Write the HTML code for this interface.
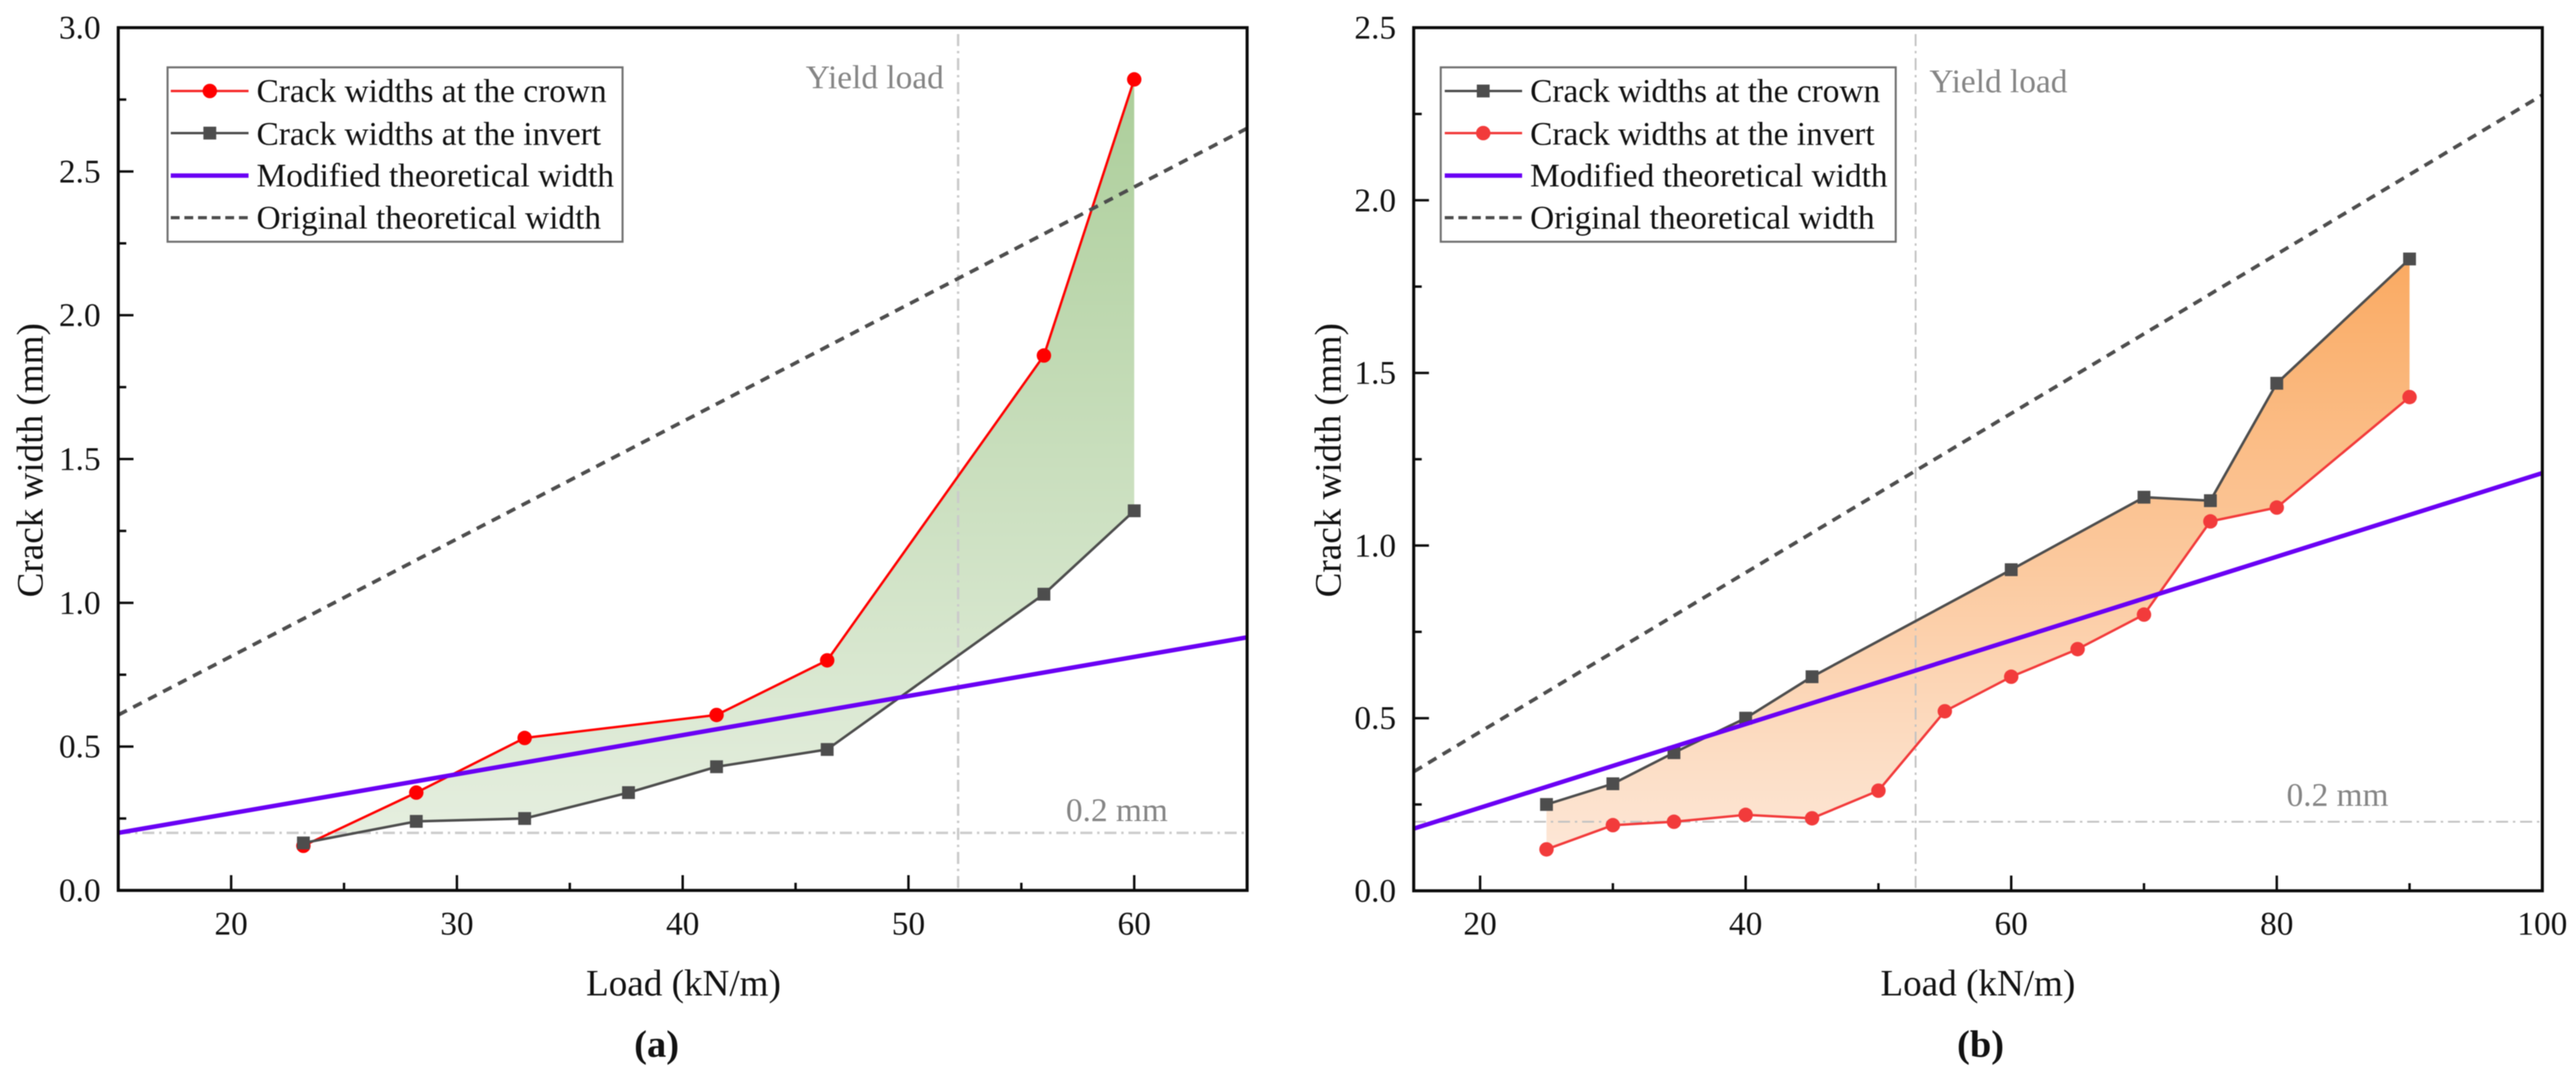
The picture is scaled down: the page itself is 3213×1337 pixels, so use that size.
<!DOCTYPE html>
<html lang="en">
<head>
<meta charset="utf-8">
<title>Crack width versus load</title>
<style>
  html, body { margin: 0; padding: 0; background: #fff; width: 3213px; height: 1337px; overflow: hidden; }
  svg { display: block; filter: blur(0.6px); }
  text { font-family: "Liberation Serif", serif; font-size: 41.6px; fill: #111; }
  .title { font-size: 46.3px; }
  .note { fill: #858585; }
  .legend-box { fill: #fff; stroke: #6f6f6f; stroke-width: 2.5; }
</style>
</head>
<body>
<svg id="figure" xmlns="http://www.w3.org/2000/svg" width="3213" height="1337" viewBox="0 0 3213 1337">
  <defs>
    <linearGradient id="green-fill" gradientUnits="userSpaceOnUse" x1="0" y1="99" x2="0" y2="1050">
      <stop offset="0" stop-color="#acce9a"/>
      <stop offset="1" stop-color="#e6efe0"/>
    </linearGradient>
    <linearGradient id="orange-fill" gradientUnits="userSpaceOnUse" x1="0" y1="322" x2="0" y2="1050">
      <stop offset="0" stop-color="#faaa62"/>
      <stop offset="1" stop-color="#fde6d5"/>
    </linearGradient>
  </defs>

  <g id="panel-a">
    <g id="a-marks"></g>
    <g id="a-axes"></g>
    <text class="title" transform="translate(53 745) rotate(-90)">Crack width (mm)</text>
    <text class="title" x="731" y="1241.5">Load (kN/m)</text>
    <text x="791" y="1318" style="font-size:48px;font-weight:bold">(a)</text>
    <text class="note" x="1005" y="110">Yield load</text>
    <text class="note" x="1329.5" y="1024">0.2 mm</text>
    <g>
      <rect class="legend-box" x="209" y="84" width="567.5" height="217.5"/>
      <g>
        <line x1="213" y1="113.5" x2="310" y2="113.5" stroke="#f62a2a" stroke-width="3"/>
        <circle cx="261.7" cy="113.5" r="9" fill="#ff0000"/>
        <text x="320" y="127">Crack widths at the crown</text>
      </g>
      <g>
        <line x1="213" y1="166" x2="310" y2="166" stroke="#4d4d4d" stroke-width="3"/>
        <rect x="253.7" y="158" width="16" height="16" fill="#4d4d4d"/>
        <text x="320" y="180.5">Crack widths at the invert</text>
      </g>
      <g>
        <line x1="213" y1="219" x2="310" y2="219" stroke="#6a00f4" stroke-width="5.5"/>
        <text x="320" y="232.5">Modified theoretical width</text>
      </g>
      <g>
        <line x1="213" y1="271.5" x2="310" y2="271.5" stroke="#4d4d4d" stroke-width="4" stroke-dasharray="11 6"/>
        <text x="320" y="285">Original theoretical width</text>
      </g>
    </g>
  </g>

  <g id="panel-b">
    <g id="b-marks"></g>
    <g id="b-axes"></g>
    <text class="title" transform="translate(1672 745) rotate(-90)">Crack width (mm)</text>
    <text class="title" x="2345.5" y="1241.5">Load (kN/m)</text>
    <text x="2441" y="1318" style="font-size:48px;font-weight:bold">(b)</text>
    <text class="note" x="2406.5" y="115">Yield load</text>
    <text class="note" x="2852" y="1005">0.2 mm</text>
    <g>
      <rect class="legend-box" x="1797" y="84" width="567.5" height="217.5"/>
      <g>
        <line x1="1802" y1="113.5" x2="1898.5" y2="113.5" stroke="#4d4d4d" stroke-width="3"/>
        <rect x="1842" y="105.5" width="16" height="16" fill="#4d4d4d"/>
        <text x="1908.5" y="127">Crack widths at the crown</text>
      </g>
      <g>
        <line x1="1802" y1="166" x2="1898.5" y2="166" stroke="#f23b3b" stroke-width="3"/>
        <circle cx="1850" cy="166" r="9" fill="#f23b3b"/>
        <text x="1908.5" y="180.5">Crack widths at the invert</text>
      </g>
      <g>
        <line x1="1802" y1="219" x2="1898.5" y2="219" stroke="#6a00f4" stroke-width="5.5"/>
        <text x="1908.5" y="232.5">Modified theoretical width</text>
      </g>
      <g>
        <line x1="1802" y1="271.5" x2="1898.5" y2="271.5" stroke="#4d4d4d" stroke-width="4" stroke-dasharray="11 6"/>
        <text x="1908.5" y="285">Original theoretical width</text>
      </g>
    </g>
  </g>
</svg>

<script>
// Panel (a) data
const aXMajor = [20, 30, 40, 50, 60];
const aXMinor = [25, 35, 45, 55];
const aYMajor = [0, 0.5, 1, 1.5, 2, 2.5, 3];
const aYMinor = [0.25, 0.75, 1.25, 1.75, 2.25, 2.75];
const aXTickLabels = ['20', '30', '40', '50', '60'];
const aYTickLabels = ['0.0', '0.5', '1.0', '1.5', '2.0', '2.5', '3.0'];
const aCrownLoad = [23.2, 28.2, 33, 41.5, 46.4, 56, 60];
const aCrownWidth = [0.155, 0.34, 0.53, 0.61, 0.8, 1.86, 2.82];
const aInvertLoad = [23.2, 28.2, 33, 37.6, 41.5, 46.4, 56, 60];
const aInvertWidth = [0.165, 0.24, 0.25, 0.34, 0.43, 0.49, 1.03, 1.32];
const aModifiedLoad = [15, 65];
const aModifiedWidth = [0.2, 0.88];
const aOriginalLoad = [15, 65];
const aOriginalWidth = [0.61, 2.65];
const aYieldLoad = [52.2];
const aLimitWidth = [0.2];

// Panel (b) data
const bXMajor = [20, 40, 60, 80, 100];
const bXMinor = [30, 50, 70, 90];
const bYMajor = [0, 0.5, 1, 1.5, 2, 2.5];
const bYMinor = [0.25, 0.75, 1.25, 1.75, 2.25];
const bXTickLabels = ['20', '40', '60', '80', '100'];
const bYTickLabels = ['0.0', '0.5', '1.0', '1.5', '2.0', '2.5'];
const bCrownLoad = [25, 30, 34.6, 40, 45, 60, 70, 75, 80, 90];
const bCrownWidth = [0.25, 0.31, 0.40, 0.50, 0.62, 0.93, 1.14, 1.13, 1.47, 1.83];
const bInvertLoad = [25, 30, 34.6, 40, 45, 50, 55, 60, 65, 70, 75, 80, 90];
const bInvertWidth = [0.12, 0.19, 0.20, 0.22, 0.21, 0.29, 0.52, 0.62, 0.70, 0.80, 1.07, 1.11, 1.43];
const bModifiedLoad = [15, 100];
const bModifiedWidth = [0.18, 1.21];
const bOriginalLoad = [15, 100];
const bOriginalWidth = [0.345, 2.305];
const bYieldLoad = [52.8];
const bLimitWidth = [0.2];

const SVG_NS = 'http://www.w3.org/2000/svg';

function make(parent, tag, attrs, name) {
  const el = document.createElementNS(SVG_NS, tag);
  for (const key in attrs) { el.setAttribute(key, attrs[key]); }
  
  
  parent.appendChild(el);
  return el;
}

function scale(d0, d1, r0, r1) {
  return function (v) { return r0 + (v - d0) * (r1 - r0) / (d1 - d0); };
}

function toPoints(xs, ys, sx, sy) {
  return xs.map(function (v, i) { return sx(v).toFixed(2) + ',' + sy(ys[i]).toFixed(2); });
}

function drawAxes(group, box, sx, sy, cfg) {
  make(group, 'rect', { x: box.left, y: box.top, width: box.right - box.left, height: box.bottom - box.top, fill: 'none', stroke: '#0a0a0a', 'stroke-width': 3.8 }, 'plot-frame');
  cfg.xMajor.forEach(function (v, i) {
    make(group, 'line', { x1: sx(v), x2: sx(v), y1: box.bottom, y2: box.bottom - 19, stroke: '#0a0a0a', 'stroke-width': 3 }, 'x-major-tick');
    const t = make(group, 'text', { x: sx(v), y: 1165.5, 'text-anchor': 'middle' }, 'x-tick-label');
    t.textContent = cfg.xLabels[i];
  });
  cfg.xMinor.forEach(function (v) {
    make(group, 'line', { x1: sx(v), x2: sx(v), y1: box.bottom, y2: box.bottom - 9.5, stroke: '#0a0a0a', 'stroke-width': 3 }, 'x-minor-tick');
  });
  cfg.yMajor.forEach(function (v, i) {
    make(group, 'line', { x1: box.left, x2: box.left + 19, y1: sy(v), y2: sy(v), stroke: '#0a0a0a', 'stroke-width': 3 }, 'y-major-tick');
    const t = make(group, 'text', { x: box.left - 22, y: sy(v) + 13.5, 'text-anchor': 'end' }, 'y-tick-label');
    t.textContent = cfg.yLabels[i];
  });
  cfg.yMinor.forEach(function (v) {
    make(group, 'line', { x1: box.left, x2: box.left + 10, y1: sy(v), y2: sy(v), stroke: '#0a0a0a', 'stroke-width': 3 }, 'y-minor-tick');
  });
}

function drawSeries(group, xs, ys, sx, sy, color, lineWidth, shape, name) {
  make(group, 'polyline', { points: toPoints(xs, ys, sx, sy).join(' '), fill: 'none', stroke: color, 'stroke-width': lineWidth, 'stroke-linejoin': 'round' }, name + '-line');
  xs.forEach(function (v, i) {
    if (shape === 'circle') {
      make(group, 'circle', { cx: sx(v), cy: sy(ys[i]), r: 9, fill: color }, name + '-point');
    } else {
      make(group, 'rect', { x: sx(v) - 8, y: sy(ys[i]) - 8, width: 16, height: 16, fill: color }, name + '-point');
    }
  });
}

function drawPanel(cfg) {
  const marks = document.getElementById(cfg.id + '-marks');
  const axes = document.getElementById(cfg.id + '-axes');
  const box = cfg.box;
  const sx = scale(cfg.xDomain[0], cfg.xDomain[1], box.left, box.right);
  const sy = scale(cfg.yDomain[0], cfg.yDomain[1], box.bottom, box.top);

  const upper = toPoints(cfg.upperX, cfg.upperY, sx, sy);
  const lower = toPoints(cfg.lowerX, cfg.lowerY, sx, sy).reverse();
  make(marks, 'polygon', { points: upper.concat(lower).join(' '), fill: cfg.fill }, 'crack-width-band');

  cfg.yieldLoad.forEach(function (v) {
    make(marks, 'line', { x1: sx(v), x2: sx(v), y1: box.top + 8, y2: box.bottom, stroke: cfg.refColor, 'stroke-width': cfg.refWidth, 'stroke-dasharray': '15 6 3 6' }, 'yield-load-line');
  });
  cfg.limitWidth.forEach(function (v) {
    make(marks, 'line', { x1: box.left, x2: box.right, y1: sy(v), y2: sy(v), stroke: cfg.refColor, 'stroke-width': cfg.refWidth, 'stroke-dasharray': '15 6 3 6' }, 'limit-width-line');
  });

  cfg.series.forEach(function (s) {
    drawSeries(marks, s.x, s.y, sx, sy, s.color, s.lineWidth, s.shape, s.name);
  });

  make(marks, 'polyline', { points: toPoints(cfg.modifiedX, cfg.modifiedY, sx, sy).join(' '), fill: 'none', stroke: '#6a00f4', 'stroke-width': 5.5 }, 'modified-theoretical-line');
  make(marks, 'polyline', { points: toPoints(cfg.originalX, cfg.originalY, sx, sy).join(' '), fill: 'none', stroke: '#4d4d4d', 'stroke-width': 4.5, 'stroke-dasharray': '12 9' }, 'original-theoretical-line');

  drawAxes(axes, box, sx, sy, cfg);
}

drawPanel({
  id: 'a',
  box: { left: 147.5, right: 1555.5, top: 34.5, bottom: 1110.5 },
  xDomain: [15, 65], yDomain: [0, 3],
  xMajor: aXMajor, xMinor: aXMinor, yMajor: aYMajor, yMinor: aYMinor,
  xLabels: aXTickLabels, yLabels: aYTickLabels,
  upperX: aCrownLoad, upperY: aCrownWidth, lowerX: aInvertLoad, lowerY: aInvertWidth,
  fill: 'url(#green-fill)',
  yieldLoad: aYieldLoad, limitWidth: aLimitWidth,
  refColor: '#cbcbcb', refWidth: 3,
  series: [
    { x: aCrownLoad, y: aCrownWidth, color: '#ff0000', lineWidth: 3, shape: 'circle', name: 'crown-series' },
    { x: aInvertLoad, y: aInvertWidth, color: '#4d4d4d', lineWidth: 3.2, shape: 'square', name: 'invert-series' }
  ],
  modifiedX: aModifiedLoad, modifiedY: aModifiedWidth,
  originalX: aOriginalLoad, originalY: aOriginalWidth
});

drawPanel({
  id: 'b',
  box: { left: 1763.3, right: 3171, top: 34.5, bottom: 1111 },
  xDomain: [15, 100], yDomain: [0, 2.5],
  xMajor: bXMajor, xMinor: bXMinor, yMajor: bYMajor, yMinor: bYMinor,
  xLabels: bXTickLabels, yLabels: bYTickLabels,
  upperX: bCrownLoad, upperY: bCrownWidth, lowerX: bInvertLoad, lowerY: bInvertWidth,
  fill: 'url(#orange-fill)',
  yieldLoad: bYieldLoad, limitWidth: bLimitWidth,
  refColor: '#c2c2c2', refWidth: 2.2,
  series: [
    { x: bCrownLoad, y: bCrownWidth, color: '#4d4d4d', lineWidth: 3.2, shape: 'square', name: 'crown-series' },
    { x: bInvertLoad, y: bInvertWidth, color: '#f23b3b', lineWidth: 3, shape: 'circle', name: 'invert-series' }
  ],
  modifiedX: bModifiedLoad, modifiedY: bModifiedWidth,
  originalX: bOriginalLoad, originalY: bOriginalWidth
});
</script>
</body>
</html>
